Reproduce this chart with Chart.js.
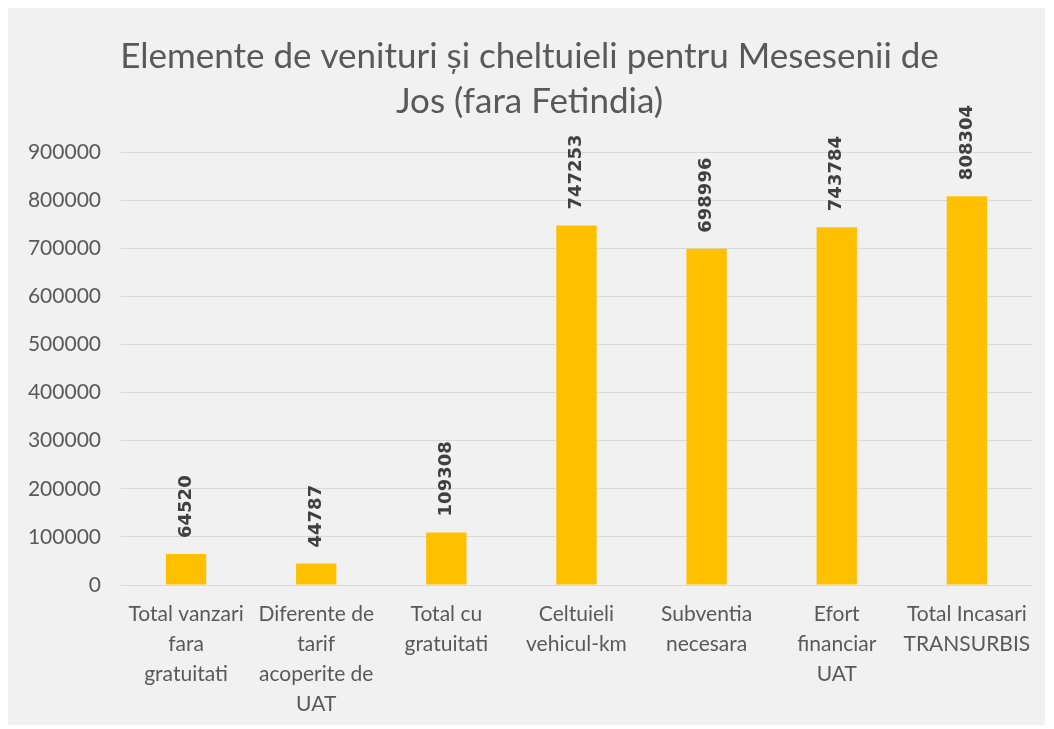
<!DOCTYPE html>
<html lang="ro">
<head>
    <meta charset="UTF-8">
    <title>Elemente de venituri si cheltuieli</title>
    <style>
        body, html {
            margin: 0;
            padding: 0;
            background: #ffffff;
        }
        #chart {
            position: absolute;
            left: 8px;
            top: 8px;
            width: 1037px;
            height: 717px;
            background: #f1f1f1;
        }
    </style>
</head>
<body>
<div id="chart">
    <canvas id="myChart"></canvas>
</div>

<script src="https://cdn.jsdelivr.net/npm/chart.js"></script>
<script type="text/javascript">
    // categorii (pe mai multe randuri, ca in grafic)
    var categories = [
        ['Total vanzari', 'fara', 'gratuitati'],
        ['Diferente de', 'tarif', 'acoperite de', 'UAT'],
        ['Total cu', 'gratuitati'],
        ['Celtuieli', 'vehicul-km'],
        ['Subventia', 'necesara'],
        ['Efort', 'financiar', 'UAT'],
        ['Total Incasari', 'TRANSURBIS']
    ];
    var values = [64520, 44787, 109308, 747253, 698996, 743784, 808304];
    var titleLines = ['Elemente de venituri și cheltuieli pentru Mesesenii de', 'Jos (fara Fetindia)'];

    var fontFamily = 'Lato, "Open Sans", sans-serif';

    // etichete verticale cu valoarea deasupra fiecarei coloane
    var valueLabels = {
        id: 'valueLabels',
        afterDatasetsDraw: function(chart) {
            var ctx = chart.ctx;
            var meta = chart.getDatasetMeta(0);
            ctx.save();
            ctx.fillStyle = '#404040';
            ctx.font = 'bold 18px "DejaVu Sans", sans-serif';
            ctx.textAlign = 'left';
            ctx.textBaseline = 'middle';
            meta.data.forEach(function(bar, i) {
                ctx.save();
                ctx.translate(bar.x, bar.y - 16);
                ctx.rotate(-Math.PI / 2);
                ctx.fillText(String(values[i]), 0, 0);
                ctx.restore();
            });
            ctx.restore();
        }
    };

    var ctx = document.getElementById('myChart').getContext('2d');
    window.myChart = new Chart(ctx, {
        type: 'bar',
        data: {
            labels: categories,
            datasets: [{
                data: values,
                backgroundColor: '#ffc000',
                categoryPercentage: 1,
                barPercentage: 0.31
            }]
        },
        options: {
            responsive: true,
            maintainAspectRatio: false,
            animation: false,
            layout: {
                padding: { left: 17, right: 11, top: 0, bottom: 0 }
            },
            plugins: {
                legend: { display: false },
                tooltip: { enabled: false },
                title: {
                    display: true,
                    text: titleLines,
                    color: '#595959',
                    font: { family: fontFamily, size: 35, weight: 'normal', lineHeight: 1.286 },
                    padding: { top: 26, bottom: 28 }
                }
            },
            scales: {
                x: {
                    afterFit: function(scale) { scale.height = 140; },
                    grid: { display: false, drawTicks: false },
                    border: { display: false },
                    ticks: {
                        color: '#595959',
                        font: { family: fontFamily, size: 21, lineHeight: 1.43 },
                        maxRotation: 0,
                        autoSkip: false,
                        padding: 14
                    }
                },
                y: {
                    min: 0,
                    max: 900000,
                    afterFit: function(scale) { scale.width = 96; },
                    grid: { color: '#d9d9d9', drawTicks: false },
                    border: { display: false },
                    ticks: {
                        stepSize: 100000,
                        color: '#595959',
                        font: { family: fontFamily, size: 21 },
                        padding: 20,
                        callback: function(value) { return String(value); }
                    }
                }
            }
        },
        plugins: [valueLabels]
    });
</script>
</body>
</html>
